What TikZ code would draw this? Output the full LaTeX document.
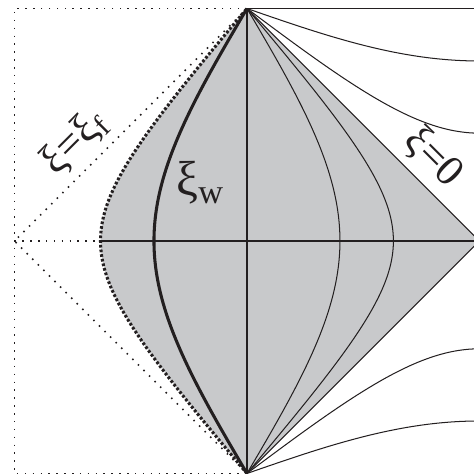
\documentclass[tikz,border=0pt]{standalone}
\usepackage{fontspec}
\setmainfont{Liberation Serif}
\usepackage{tikz}
\usetikzlibrary{calc}
\definecolor{wedgegray}{HTML}{C8C9CB}
\definecolor{ink}{HTML}{231F20}

\begin{document}
\begin{tikzpicture}[
  frameline/.style={draw=ink, line width=0.75pt, dash pattern=on 0.75pt off 3.1pt},
  wallline/.style={draw=ink, line width=1.5pt},
  farline/.style={draw=ink, line width=1.5pt, dash pattern=on 1.3pt off 1pt},
  xiline/.style={draw=ink, line width=0.5pt},
  axisline/.style={draw=ink, line width=0.65pt},
  lbl/.style={font=\fontsize{21}{25}\selectfont, text=ink, inner sep=0pt}
]
\useasboundingbox (-4.249,-4.009) rectangle (3.905,4.146);
\clip (-4.249,-4.009) rectangle (3.905,4.146);
\coordinate (top) at (0,4);
\coordinate (bot) at (0,-4);
\coordinate (rgt) at (4,0);
\coordinate (lft) at (-4,0);
\coordinate (tl) at (-4,4);
\coordinate (bl) at (-4,-4);
\coordinate (tr) at (4,4);
\coordinate (ff) at (-2.52,0); % xi_f on the axis

% shaded wedge
\fill[wedgegray] plot[domain=90:-90, samples=121, variable=\t]
  ({4*(1-acos(cos(146.7)*cos(\t))/90)}, {4*\t/90}) -- (rgt) -- cycle;

% frame
\draw[frameline] (top) -- (tl) -- (bl) -- (bot);
\draw[frameline] (top) -- (lft) -- (bot);
\draw[frameline] (lft) -- (ff);

% axes and horizon
\draw[axisline] (top) -- (bot);
\draw[axisline] (ff) -- (rgt);
\draw[xiline] (top) -- (rgt) -- (bot);
\draw[xiline] (top) -- (tr);

% constant xi
\foreach \a in {33.3,54}
  \draw[xiline] plot[domain=-90:90, samples=121, variable=\t]
    ({4*(1-acos(cos(\a)*cos(\t))/90)}, {4*\t/90});
\draw[wallline] plot[domain=-90:90, samples=121, variable=\t]
  ({4*(1-acos(cos(126)*cos(\t))/90)}, {4*\t/90});
\draw[farline] plot[domain=-90:90, samples=121, variable=\t]
  ({4*(1-acos(cos(146.7)*cos(\t))/90)}, {4*\t/90});

% beyond the horizon
\foreach \c in {1.34,2.88} {
  \draw[xiline] plot[domain=0:90, samples=91, variable=\s]
    ({4*(1-\s/90)}, {4*acos(cos(\s)/\c)/90});
  \draw[xiline] plot[domain=0:90, samples=91, variable=\s]
    ({4*(1-\s/90)}, {-4*acos(cos(\s)/\c)/90});
}

\node[lbl, rotate=45] (xif) at (-2.96,1.70) {ξ=ξ\textsubscript{f}};
\node[lbl, font=\fontsize{24}{28}\selectfont] (xiw) at (-0.80,1.0) {ξ\textsubscript{w}};
\node[lbl, rotate=-45] (xizero) at (3.2,1.43) {ξ=0};
\end{tikzpicture}
\end{document}
